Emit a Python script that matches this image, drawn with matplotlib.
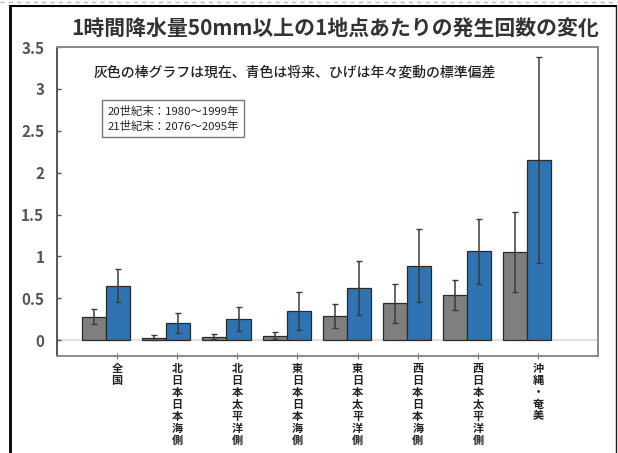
"""Bar chart: change in hourly-rain >= 50mm occurrences per station."""

import matplotlib

matplotlib.use("Agg")
import matplotlib.pyplot as plt
from matplotlib.lines import Line2D
import numpy as np

plt.rcParams["font.family"] = ["Noto Sans CJK JP", "DejaVu Sans"]

regions = ["全国", "北日本日本海側", "北日本太平洋側", "東日本日本海側",
           "東日本太平洋側", "西日本日本海側", "西日本太平洋側", "沖縄・奄美"]
present = [0.28, 0.03, 0.04, 0.055, 0.285, 0.44, 0.535, 1.05]
present_sd = [0.09, 0.03, 0.03, 0.045, 0.145, 0.235, 0.18, 0.48]
future = [0.65, 0.20, 0.25, 0.345, 0.62, 0.89, 1.06, 2.15]
future_sd = [0.20, 0.12, 0.14, 0.225, 0.32, 0.44, 0.385, 1.23]
yticks = [0, 0.5, 1, 1.5, 2, 2.5, 3, 3.5]
ytick_labels = ["0", "0.5", "1", "1.5", "2", "2.5", "3", "3.5"]

GRAY = "#7f7f7f"
BLUE = "#2f73b2"

fig = plt.figure(figsize=(6.18, 4.53), dpi=100)
ax = fig.add_axes([0.092, 0.214, 0.876, 0.682])

x = np.arange(len(regions))
err_kw = dict(ecolor="#3a3a3a", elinewidth=1.1, capsize=2.5, capthick=1.0)
ax.axhline(0, color="#e2e2e2", lw=1.5, zorder=0)
ax.bar(x - 0.38, present, width=0.40, color=GRAY, edgecolor="#2a2a2a",
       linewidth=0.9, yerr=present_sd, error_kw=err_kw, zorder=2)
ax.bar(x + 0.02, future, width=0.40, color=BLUE, edgecolor="#2a2a2a",
       linewidth=0.9, yerr=future_sd, error_kw=err_kw, zorder=2)

ax.set_xlim(-1.0, 8.0)
ax.set_ylim(-0.19, 3.5)
ax.set_yticks(yticks)
ax.set_yticklabels(ytick_labels, fontsize=11, fontweight="bold", color="#555555")
ax.set_xticks(x)
ax.set_xticklabels(["\n".join(r) for r in regions], fontsize=8,
                   fontweight="bold", linespacing=0.9, va="top", color="#222222")
ax.tick_params(axis="y", direction="in", length=3, width=1, color="#555555", pad=9)
ax.tick_params(axis="x", direction="inout", length=4, width=0.8, color="#777777", pad=2)
for side, spine in ax.spines.items():
    spine.set_color("#8a8a8a" if side != "left" else "#555555")
    spine.set_linewidth(1.4)

ax.text(0.44, 0.919, "灰色の棒グラフは現在、青色は将来、ひげは年々変動の標準偏差",
        transform=ax.transAxes, ha="center", va="center", fontsize=10,
        fontweight="medium", color="#222222")
ax.text(0.093, 0.768, "20世紀末：1980～1999年\n21世紀末：2076～2095年",
        transform=ax.transAxes, ha="left", va="center", fontsize=8.2,
        linespacing=1.5, color="#222222",
        bbox=dict(boxstyle="square,pad=0.45", fc="white", ec="#777777", lw=1))

fig.text(0.542, 0.936, "1時間降水量50mm以上の1地点あたりの発生回数の変化",
         ha="center", va="center", fontsize=15, fontweight="bold",
         color="#333333")

# outer frame of the original figure
fig.add_artist(Line2D([0.016, 0.016], [0, 0.987], transform=fig.transFigure,
                      color="black", lw=2.0))
fig.add_artist(Line2D([0.016, 0.997], [0.987, 0.987], transform=fig.transFigure,
                      color="black", lw=1.5))
fig.add_artist(Line2D([0.997, 0.997], [0, 0.987], transform=fig.transFigure,
                      color="#222222", lw=1.0))
fig.add_artist(Line2D([0.0, 1.0], [0.996, 0.996], transform=fig.transFigure,
                      color="#bbbbbb", lw=1.0, ls=(0, (3, 3))))

fig.savefig("out.png", dpi=100)
